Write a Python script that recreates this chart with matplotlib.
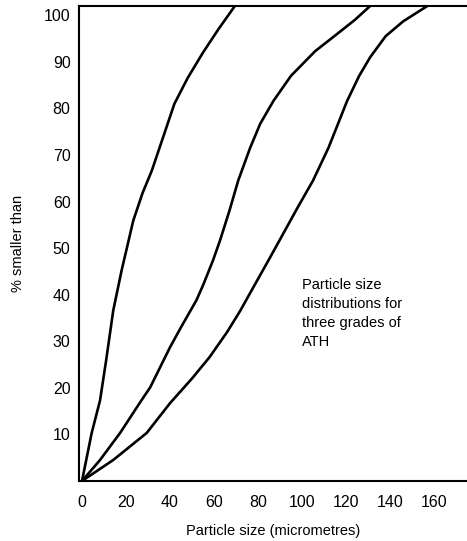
import matplotlib
matplotlib.use("Agg")
import matplotlib.pyplot as plt

# particle size (micrometres) vs cumulative % smaller than
fine_x = [0, 4.4, 8.2, 11, 14.2, 18, 23.3, 27.5, 31.7, 37, 42, 48, 55, 62, 69.5]
fine_y = [0, 10.3, 17.3, 26, 36.6, 45.2, 55.9, 61.8, 66.6, 74, 81, 86.5, 92, 97, 102]

mid_x = [0, 8.2, 17.3, 27, 31, 40, 45, 52, 55, 59.5, 62.7, 67, 71, 76.4, 81, 87, 95, 106, 116, 124, 131]
mid_y = [0, 4.5, 10.3, 17.3, 20.1, 28.7, 33, 38.8, 42, 47.3, 51.6, 58, 64.5, 71.5, 76.7, 81.6, 87, 92.3, 96, 99, 102]

coarse_x = [0, 14.2, 29.4, 40, 50, 58, 66, 72, 76, 85.5, 98, 105, 112, 120.5, 126, 131, 138, 146, 157]
coarse_y = [0, 4.5, 10.3, 16.7, 22, 26.6, 32, 36.6, 40, 48, 58.7, 64.5, 71.5, 81.6, 87, 91, 95.5, 98.7, 102]

xticks = [0, 20, 40, 60, 80, 100, 120, 140, 160]
yticks = [10, 20, 30, 40, 50, 60, 70, 80, 90, 100]

plt.rcParams['font.family'] = ['Liberation Sans', 'DejaVu Sans']

fig = plt.figure(figsize=(4.67, 5.41), dpi=100)
ax = fig.add_axes([0.169, 0.111, 0.831, 0.878])

for xs, ys in [(fine_x, fine_y), (mid_x, mid_y), (coarse_x, coarse_y)]:
    ax.plot(xs, ys, color='black', lw=1.9, solid_capstyle='round')

ax.set_xlim(-1.4, 175)
ax.set_ylim(0, 102)
ax.set_xticks(xticks)
ax.set_yticks(yticks)
ax.tick_params(axis='x', length=0, pad=10, labelsize=11.5)
ax.tick_params(axis='y', length=0, pad=6, labelsize=11.5)

ax.spines['right'].set_visible(False)
for s in ['left', 'bottom', 'top']:
    ax.spines[s].set_linewidth(1.5)

ax.set_xlabel('Particle size (micrometres)', fontsize=10.5, labelpad=10)
ax.set_ylabel('% smaller than', fontsize=10.5, labelpad=14)

ax.text(100, 43.5, 'Particle size\ndistributions for\nthree grades of\nATH',
        fontsize=10.5, va='top', ha='left', linespacing=1.45)

fig.savefig('out.png', dpi=100)
